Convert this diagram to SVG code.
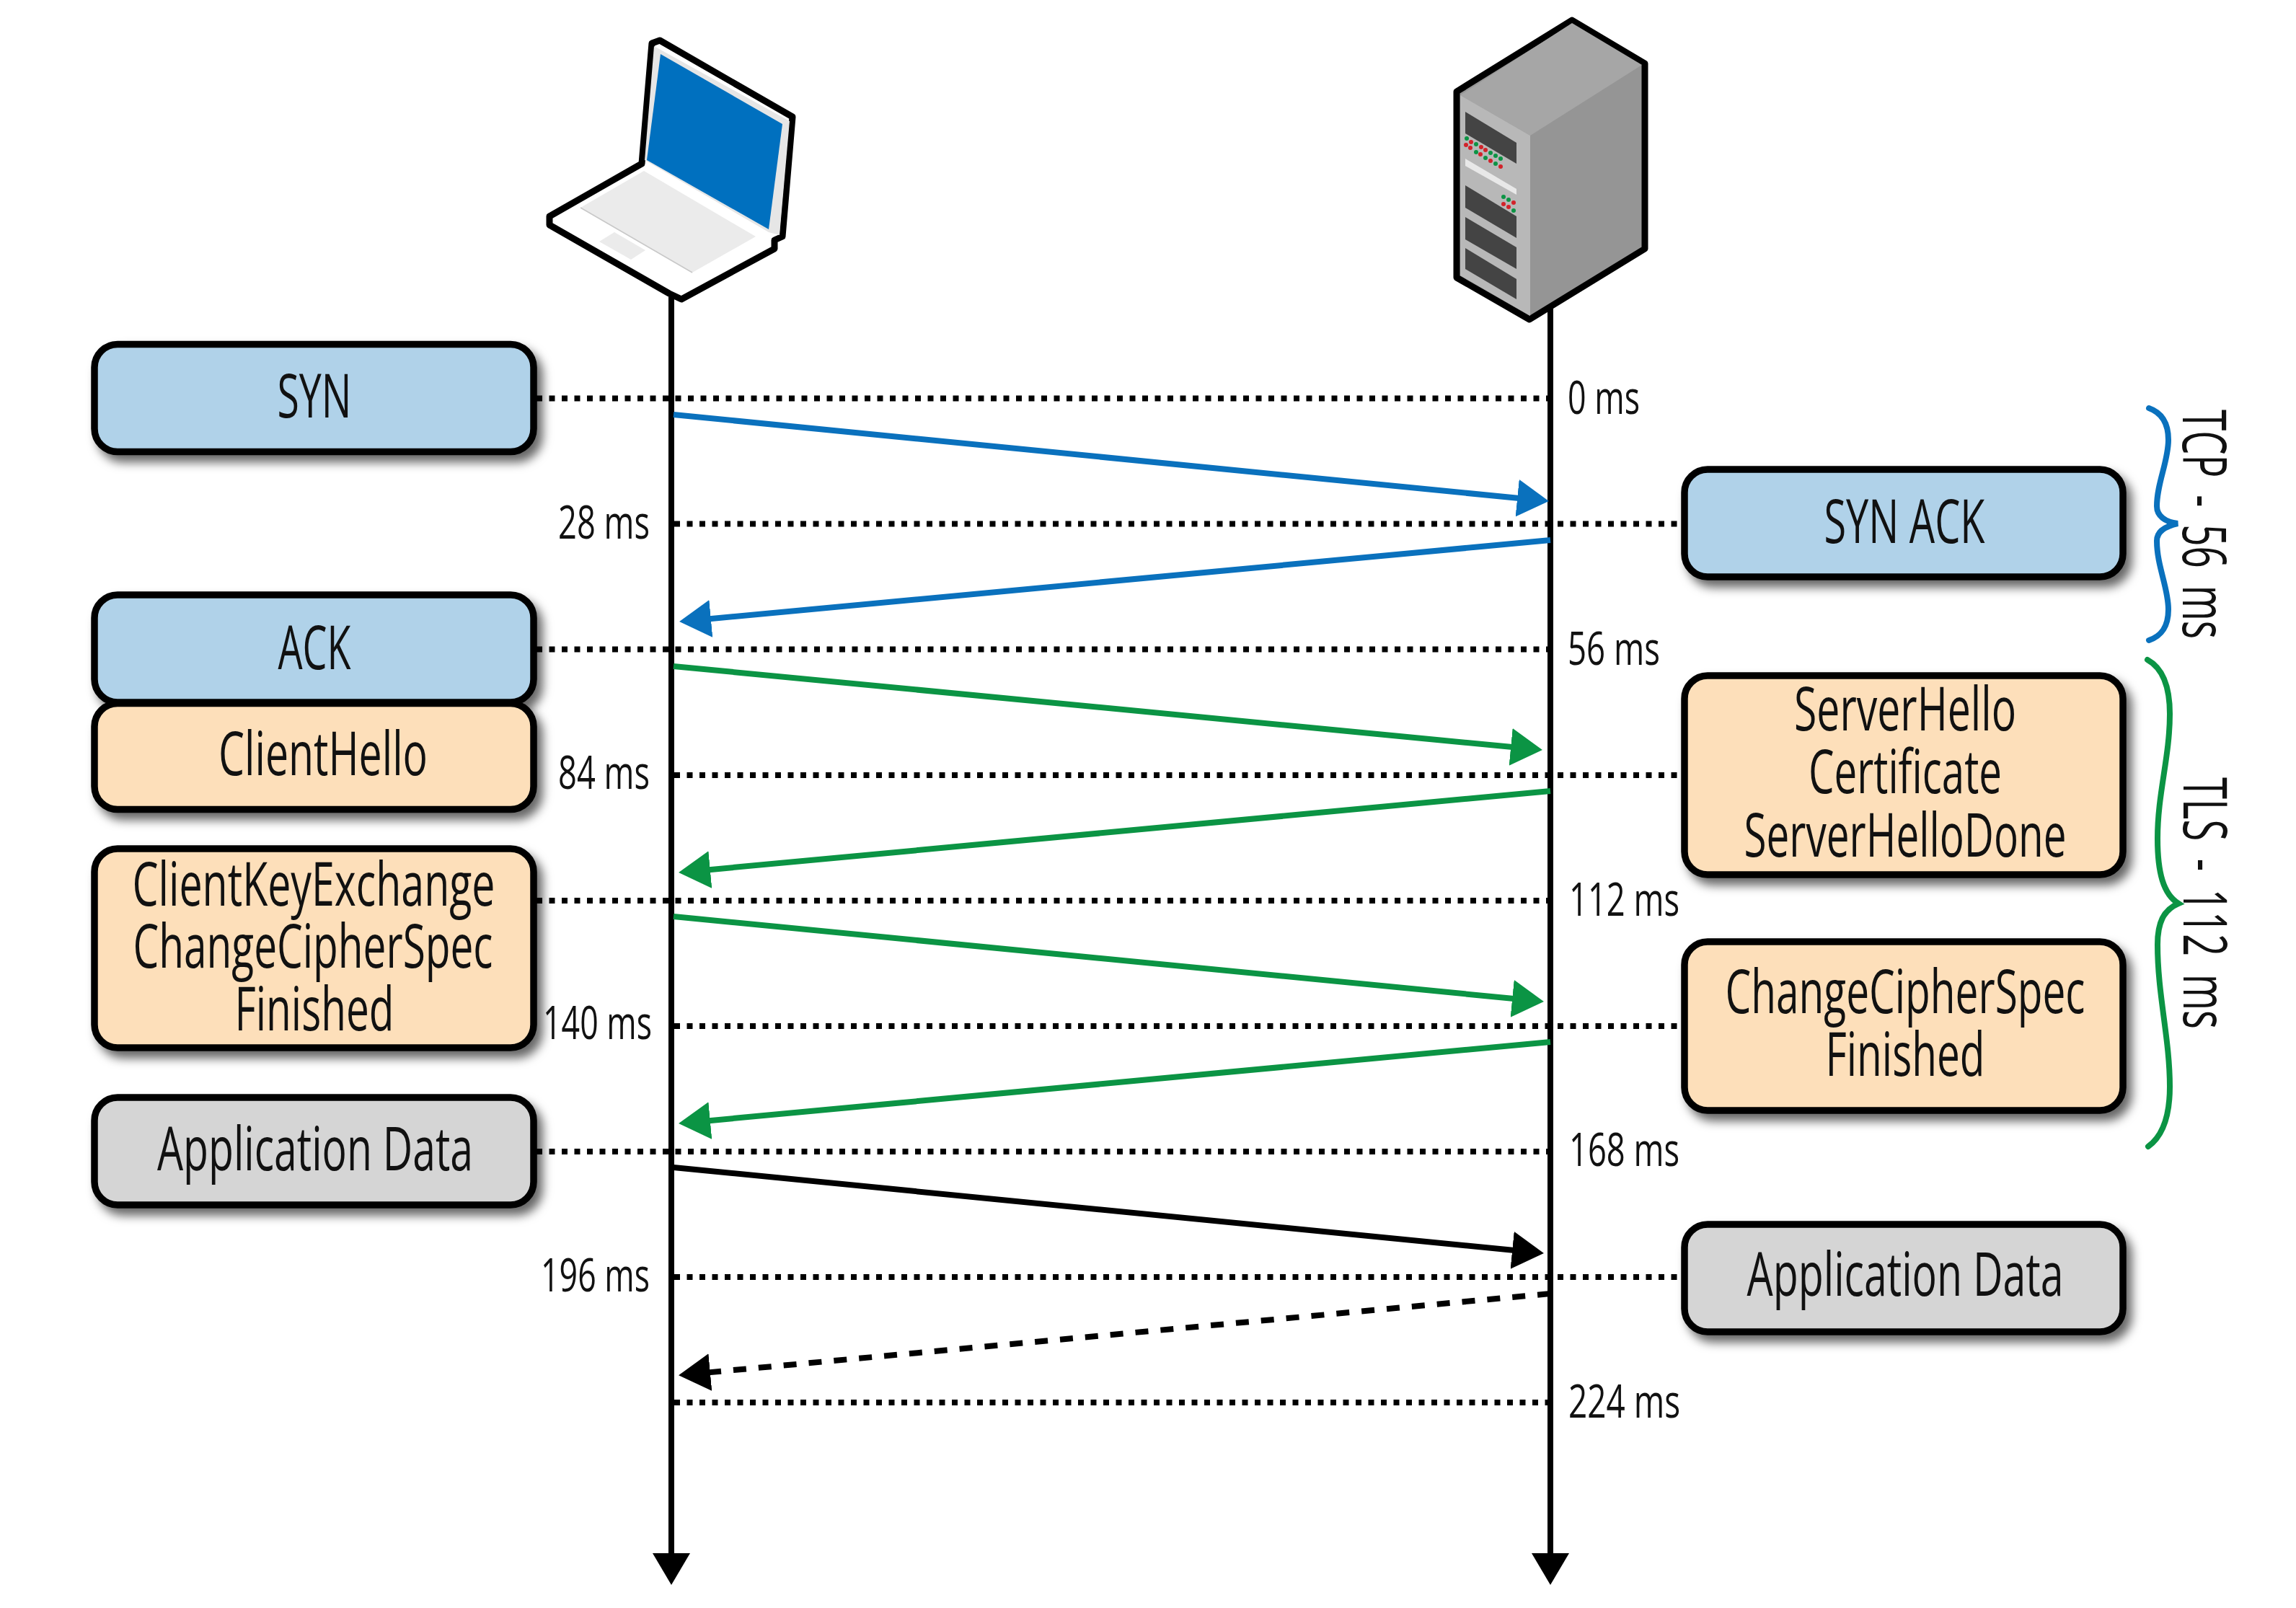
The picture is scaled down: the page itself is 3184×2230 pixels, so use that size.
<svg xmlns="http://www.w3.org/2000/svg" width="3184" height="2230" viewBox="0 0 3184 2230">
<style>
text{font-family:"Open Sans","Noto Sans","Liberation Sans",sans-serif;fill:#111}
.b{font-size:84px;text-anchor:middle;font-weight:500}
.t{font-size:64px;font-weight:500}
.r{text-anchor:end}
.v{text-anchor:start;word-spacing:16px}
.box{stroke:#000;stroke-width:9.500;filter:url(#sh)}
.blue{fill:#B0D2E9}.or{fill:#FDDFBA}.gr{fill:#D5D5D5}
.dot{stroke:#000;stroke-width:8;stroke-dasharray:8 9.500;fill:none}
.life{stroke:#000;stroke-width:8;marker-end:url(#hk)}
.ab{stroke:#0A71BD;stroke-width:8;marker-end:url(#hb)}
.ag{stroke:#0B9444;stroke-width:8;marker-end:url(#hg)}
.ak{stroke:#000;stroke-width:8;marker-end:url(#hk)}
.brace{fill:none;stroke-width:8;stroke-linecap:round}
.lg{fill:#0B9444}.lr{fill:#D2232A}.p{fill:#444}
</style>
<defs>
<filter id="sh" x="-10%" y="-20%" width="125%" height="150%"><feDropShadow dx="8" dy="10" stdDeviation="7" flood-color="#000" flood-opacity="0.6"/></filter>
<marker id="hb" markerUnits="userSpaceOnUse" markerWidth="50" markerHeight="56" refX="31" refY="26" orient="auto"><polygon points="0,0 44,26 0,52" fill="#0A71BD"/></marker>
<marker id="hg" markerUnits="userSpaceOnUse" markerWidth="50" markerHeight="56" refX="31" refY="26" orient="auto"><polygon points="0,0 44,26 0,52" fill="#0B9444"/></marker>
<marker id="hk" markerUnits="userSpaceOnUse" markerWidth="50" markerHeight="56" refX="31" refY="26" orient="auto"><polygon points="0,0 44,26 0,52" fill="#000"/></marker>
</defs>
<rect width="3184" height="2230" fill="#fff"/>
<g id="connectors">
<line class="life" x1="931" y1="400" x2="931" y2="2185"/>
<line class="life" x1="2150" y1="420" x2="2150" y2="2185"/>
<line class="dot" x1="744" y1="552.500" x2="2148" y2="552.500"/>
<line class="dot" x1="935" y1="726.500" x2="2335" y2="726.500"/>
<line class="dot" x1="744" y1="900.500" x2="2148" y2="900.500"/>
<line class="dot" x1="935" y1="1075" x2="2335" y2="1075"/>
<line class="dot" x1="744" y1="1249" x2="2148" y2="1249"/>
<line class="dot" x1="935" y1="1423" x2="2335" y2="1423"/>
<line class="dot" x1="744" y1="1597" x2="2148" y2="1597"/>
<line class="dot" x1="935" y1="1771" x2="2335" y2="1771"/>
<line class="dot" x1="935" y1="1945" x2="2146" y2="1945"/>
<line class="ab" x1="934" y1="575" x2="2135" y2="693.800"/>
<line class="ab" x1="2150" y1="749" x2="955" y2="860.900"/>
<line class="ag" x1="934" y1="924" x2="2126" y2="1038.800"/>
<line class="ag" x1="2150" y1="1097" x2="954" y2="1208.900"/>
<line class="ag" x1="934" y1="1271" x2="2128" y2="1387.800"/>
<line class="ag" x1="2150" y1="1445" x2="954" y2="1556.900"/>
<line class="ak" x1="934" y1="1619" x2="2128" y2="1736.800"/>
<line class="ak" x1="2150" y1="1794" x2="954" y2="1906" stroke-dasharray="18 17"/>
</g>
<g id="laptop">
<path d="M890,227 L904,60 L915,56 L1099,162 L1085,328 L1074,333 L1074,345 L945,415 L928,407 L762,312 L762,300 Z" fill="#fff" stroke="#000" stroke-width="9" stroke-linejoin="round"/>
<polygon points="894,222 907,64 1095,168 1081,326 1066,322" fill="#E6E6E6"/>
<polygon points="916,75 1085,172 1066,318 897,222" fill="#0070BF"/>
<polygon points="893,237 1048,328 960,378 805,288" fill="#EBEBEB"/>
<polygon points="852,322 895,347 875,360 831,335" fill="#EBEBEB"/>
<line x1="805" y1="288" x2="960" y2="378" stroke="#C8C8C8" stroke-width="1.500"/>
</g>
<g id="server">
<polygon points="2180,28 2281,88 2281,345 2121,443 2020,385 2020,127" fill="#959595" stroke="#000" stroke-width="9" stroke-linejoin="round"/>
<polygon points="2180,32 2277,90 2122,188 2025,132" fill="#A6A6A6"/>
<polygon points="2025,132 2122,188 2122,438 2025,382" fill="#B8B8B8"/>
<polygon class="p" points="2032,155 2103,198 2103,227 2032,185"/>
<polygon points="2032,220 2103,262 2103,270 2032,230" fill="#E8E8E8"/>
<polygon class="p" points="2032,257 2103,300 2103,330 2032,288"/>
<polygon class="p" points="2032,301 2103,343 2103,373 2032,332"/>
<polygon class="p" points="2032,344 2103,387 2103,415 2032,373"/>
<g id="leds">
<circle class="lg" cx="2034" cy="192" r="3"/><circle class="lr" cx="2040" cy="197" r="3"/><circle class="lg" cx="2047" cy="200" r="3"/><circle class="lr" cx="2054" cy="204" r="3"/><circle class="lr" cx="2060" cy="208" r="3"/><circle class="lg" cx="2067" cy="212" r="3"/><circle class="lg" cx="2074" cy="216" r="3"/><circle class="lg" cx="2081" cy="220" r="3"/>
<circle class="lr" cx="2033" cy="201" r="3"/><circle class="lr" cx="2039" cy="205" r="3"/><circle class="lg" cx="2047" cy="211" r="3"/><circle class="lr" cx="2053" cy="214" r="3"/><circle class="lg" cx="2060" cy="219" r="3"/><circle class="lr" cx="2067" cy="223" r="3"/><circle class="lg" cx="2074" cy="227" r="3"/><circle class="lr" cx="2081" cy="231" r="3"/>
<circle class="lg" cx="2085" cy="273" r="3"/><circle class="lg" cx="2092" cy="277" r="3"/><circle class="lr" cx="2099" cy="281" r="3"/><circle class="lr" cx="2085" cy="283" r="3"/><circle class="lr" cx="2092" cy="287" r="3"/><circle class="lg" cx="2099" cy="292" r="3"/>
</g>
</g>
<g id="node-syn"><rect class="box blue" x="131" y="477.500" width="609" height="149" rx="32"/><text class="b" x="436" y="579" textLength="103" lengthAdjust="spacingAndGlyphs">SYN</text></g>
<g id="node-ack"><rect class="box blue" x="131" y="825" width="609" height="149" rx="32"/><text class="b" x="436" y="928" textLength="101" lengthAdjust="spacingAndGlyphs">ACK</text></g>
<g id="node-clienthello"><rect class="box or" x="131" y="975.500" width="609" height="147" rx="32"/><text class="b" x="448" y="1075" textLength="290" lengthAdjust="spacingAndGlyphs">ClientHello</text></g>
<g id="node-clientkeyexchange"><rect class="box or" x="131" y="1177" width="609" height="276" rx="32"/>
<text class="b" x="435" y="1256" textLength="503" lengthAdjust="spacingAndGlyphs">ClientKeyExchange</text>
<text class="b" x="434" y="1342" textLength="499" lengthAdjust="spacingAndGlyphs">ChangeCipherSpec</text>
<text class="b" x="436" y="1429" textLength="221" lengthAdjust="spacingAndGlyphs">Finished</text></g>
<g id="node-appdata-client"><rect class="box gr" x="131" y="1522" width="609" height="149" rx="32"/><text class="b" x="437" y="1623" textLength="438" lengthAdjust="spacingAndGlyphs">Application Data</text></g>
<g id="node-synack"><rect class="box blue" x="2336" y="651" width="608" height="149" rx="32"/><text class="b" x="2641" y="753" textLength="223" lengthAdjust="spacingAndGlyphs">SYN ACK</text></g>
<g id="node-serverhello"><rect class="box or" x="2336" y="937" width="608" height="276" rx="32"/>
<text class="b" x="2642" y="1013" textLength="308" lengthAdjust="spacingAndGlyphs">ServerHello</text>
<text class="b" x="2642" y="1100" textLength="268" lengthAdjust="spacingAndGlyphs">Certificate</text>
<text class="b" x="2642" y="1188" textLength="447" lengthAdjust="spacingAndGlyphs">ServerHelloDone</text></g>
<g id="node-changecipherspec"><rect class="box or" x="2336" y="1306" width="608" height="234" rx="32"/>
<text class="b" x="2642" y="1405" textLength="499" lengthAdjust="spacingAndGlyphs">ChangeCipherSpec</text>
<text class="b" x="2642" y="1492" textLength="221" lengthAdjust="spacingAndGlyphs">Finished</text></g>
<g id="node-appdata-server"><rect class="box gr" x="2336" y="1698" width="608" height="149" rx="32"/><text class="b" x="2642" y="1797" textLength="439" lengthAdjust="spacingAndGlyphs">Application Data</text></g>
<g id="times">
<text class="t" x="2174" y="574" textLength="100" lengthAdjust="spacingAndGlyphs">0 ms</text>
<text class="t r" x="901" y="747" textLength="127" lengthAdjust="spacingAndGlyphs">28 ms</text>
<text class="t" x="2174" y="922" textLength="128" lengthAdjust="spacingAndGlyphs">56 ms</text>
<text class="t r" x="901" y="1094" textLength="127" lengthAdjust="spacingAndGlyphs">84 ms</text>
<text class="t" x="2176" y="1270" textLength="153" lengthAdjust="spacingAndGlyphs">112 ms</text>
<text class="t r" x="904" y="1441" textLength="151" lengthAdjust="spacingAndGlyphs">140 ms</text>
<text class="t" x="2176" y="1617" textLength="153" lengthAdjust="spacingAndGlyphs">168 ms</text>
<text class="t r" x="901" y="1791" textLength="151" lengthAdjust="spacingAndGlyphs">196 ms</text>
<text class="t" x="2175" y="1966" textLength="155" lengthAdjust="spacingAndGlyphs">224 ms</text>
</g>
<g id="brace-tcp"><path class="brace" stroke="#0A71BD" d="M2980,566 C2997,572 3007,585 3007,610 C3007,640 2991,670 2991,702 C2991,715 3002,724 3020,726 C3002,730 2991,738 2991,750 C2991,785 3007,815 3007,845 C3007,870 2997,882 2980,888"/>
<text class="b v" transform="translate(3027,568) rotate(90)" textLength="318" lengthAdjust="spacingAndGlyphs">TCP - 56 ms</text></g>
<g id="brace-tls"><path class="brace" stroke="#0B9444" d="M2978,915 C3000,927 3009,955 3009,990 C3009,1050 2992,1100 2992,1163 C2992,1210 3000,1240 3021,1253 C3000,1262 2992,1280 2992,1310 C2992,1380 3009,1440 3009,1507 C3009,1545 3000,1575 2979,1590"/>
<text class="b v" transform="translate(3028,1078) rotate(90)" textLength="349" lengthAdjust="spacingAndGlyphs">TLS - 112 ms</text></g>
</svg>
